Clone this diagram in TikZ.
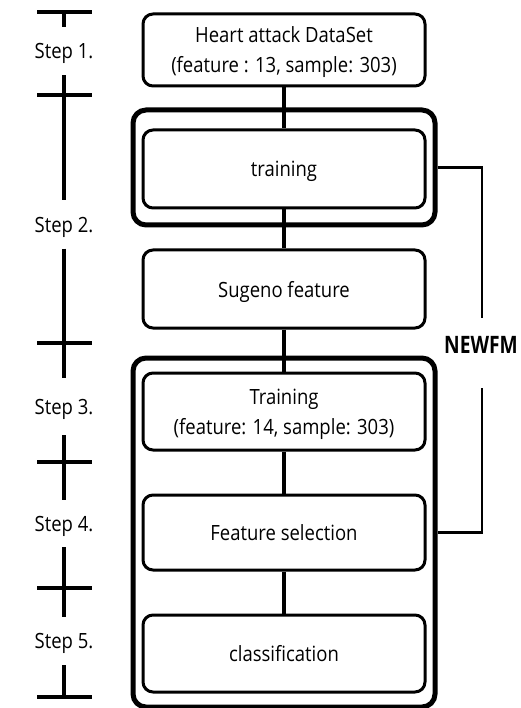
\documentclass[tikz,border=0pt]{standalone}
\usepackage{fontspec}
\setmainfont{Open Sans}[FakeStretch=0.88]
\newfontfamily\nfont{Open Sans}[FakeStretch=0.8]
\begin{document}
\begin{tikzpicture}[x=1pt,y=-1pt,
  txt/.style={font=\fontsize{21}{30}\selectfont},
  box/.style={draw, line width=3pt, rounded corners=10pt, minimum width=282pt,
              align=center, inner sep=0pt, text depth=0pt, txt},
  outer/.style={draw, line width=5pt, rounded corners=13pt, minimum width=302pt, inner sep=0pt},
  conn/.style={line width=4pt},
  tline/.style={line width=4pt},
  brace/.style={line width=2.8pt},
  steplab/.style={txt, minimum height=48pt, inner sep=0pt, text depth=0pt, anchor=center}]
\useasboundingbox (0,0) rectangle (520,708);
\fill[white] (0,0) rectangle (520,708);

% outer frames
\node[outer, minimum height=115pt] (o1) at (284,167.5) {};
\node[outer, minimum height=349pt] (o2) at (284,532.5) {};

% boxes
\node[box, minimum height=72pt] (b1) at (284,50) {Heart attack DataSet\\(feature : 13, sample: 303)};
\node[box, minimum height=78pt] (tr1) at (284,169) {training};
\node[box, minimum height=78pt] (sug) at (284,289) {Sugeno feature};
\node[box, minimum height=77pt] (tr2) at (284,411.5) {Training\\(feature: 14, sample: 303)};
\node[box, minimum height=75pt] (fs) at (284,532.5) {Feature selection};
\node[box, minimum height=77pt] (cl) at (284,653.5) {classification};

% connectors
\draw[conn] (b1.south) -- (tr1.north);
\draw[conn] (tr1.south) -- (sug.north);
\draw[conn] (sug.south) -- (tr2.north);
\draw[conn] (tr2.south) -- (fs.north);
\draw[conn] (fs.south) -- (cl.north);

% NEWFM bracket
\node[font=\nfont\fontsize{24}{24}\selectfont\bfseries] (nf) at (481,345) {NEWFM};
\coordinate (nftop) at (482,318);
\coordinate (nfbot) at (482,388);
\draw[brace] (o1.east) -| (nftop);
\draw[brace] (nfbot) |- (o2.east);

% timeline
\coordinate (tk0) at (64,12);
\coordinate (tk1) at (64,95);
\coordinate (tk2) at (64,343);
\coordinate (tk3) at (64,462);
\coordinate (tk4) at (64,588);
\coordinate (tk5) at (64,697);
\node[steplab] (s1) at (64,51) {Step 1.};
\node[steplab] (s2) at (64,224.5) {Step 2.};
\node[steplab, minimum height=57pt] (s3) at (64,406.5) {Step 3.};
\node[steplab, minimum height=47pt] (s4) at (64,523.5) {Step 4.};
\node[steplab] (s5) at (64,641) {Step 5.};
\draw[tline] (tk0) -- (s1.north);
\draw[tline] (s1.south) -- (tk1) -- (s2.north);
\draw[tline] (s2.south) -- (tk2) -- (s3.north);
\draw[tline] (s3.south) -- (tk3) -- (s4.north);
\draw[tline] (s4.south) -- (tk4) -- (s5.north);
\draw[tline] (s5.south) -- (tk5);
\foreach \t in {tk0,tk1,tk2,tk3,tk4,tk5}
  \draw[tline] ([xshift=-27pt]\t) -- ([xshift=28pt]\t);
\end{tikzpicture}
\end{document}
